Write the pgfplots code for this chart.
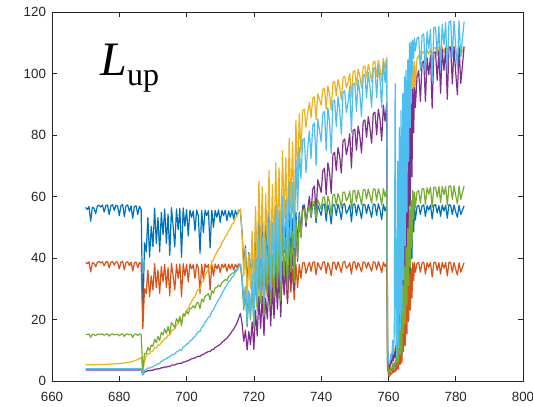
\documentclass[border=0pt]{standalone}
\usepackage{pgfplots}
\usepackage{pgfplotstable}
\pgfplotsset{compat=1.18}
\usepackage{fontspec}
\setmainfont{Liberation Sans}
\newfontfamily\timesfont{Liberation Serif}
\definecolor{mblue}{rgb}{0,0.447,0.741}
\definecolor{morange}{rgb}{0.85,0.325,0.098}
\definecolor{myellow}{rgb}{0.929,0.694,0.125}
\definecolor{mpurple}{rgb}{0.494,0.184,0.556}
\definecolor{mgreen}{rgb}{0.466,0.674,0.188}
\definecolor{mcyan}{rgb}{0.301,0.745,0.933}
\definecolor{maxis}{rgb}{0.15,0.15,0.15}
\pgfplotstableread{
x b o y p g c
670.0 56.5 38.6 5.3 3.6 15.2 4.0
670.5 55.8 38.2 5.3 3.6 15.1 4.0
671.0 56.8 38.8 5.3 3.6 15.3 4.0
671.5 52.0 35.5 5.3 3.6 14.2 4.0
672.0 56.6 38.5 5.3 3.6 15.2 4.0
672.5 56.2 38.3 5.3 3.6 15.1 4.0
673.0 54.5 37.2 5.35 3.6 14.8 4.0
673.5 57.0 38.7 5.35 3.6 15.2 4.0
674.0 57.2 38.9 5.4 3.6 15.3 4.0
674.5 56.6 38.4 5.4 3.6 15.2 4.0
675.0 57.3 38.8 5.4 3.6 15.3 4.0
675.5 55.0 37.5 5.4 3.6 14.9 4.0
676.0 57.1 38.7 5.45 3.6 15.2 4.0
676.5 57.3 38.9 5.45 3.6 15.3 4.0
677.0 54.2 36.8 5.5 3.6 14.6 4.0
677.5 57.0 38.6 5.5 3.6 15.2 4.0
678.0 57.4 38.9 5.55 3.6 15.3 4.0
678.5 55.5 37.7 5.55 3.6 15.0 4.0
679.0 57.2 38.8 5.6 3.6 15.2 4.0
679.5 57.0 38.6 5.65 3.6 15.2 4.0
680.0 53.8 36.5 5.7 3.6 14.7 4.0
680.5 57.1 38.7 5.75 3.6 15.2 4.0
681.0 57.4 38.9 5.8 3.6 15.3 4.0
681.5 53.5 36.2 5.85 3.6 14.5 4.0
682.0 57.0 38.6 5.95 3.6 15.2 4.0
682.5 57.3 38.8 6.0 3.6 15.3 4.0
683.0 55.2 37.6 6.1 3.6 15.0 4.0
683.5 57.0 38.7 6.2 3.6 15.2 4.0
684.0 53.0 35.8 6.4 3.6 14.2 4.0
684.5 56.8 38.5 6.6 3.6 15.2 4.0
685.0 57.0 38.7 6.8 3.6 15.3 4.0
685.5 54.2 36.9 7.0 3.6 14.8 4.0
686.0 56.9 38.6 7.3 3.6 15.3 4.05
686.5 55.8 38.0 7.6 3.65 15.2 4.1
687.0 20.0 17.0 3.0 2.0 3.5 2.0
687.5 45.0 30.0 6.5 3.0 9.0 3.5
688.0 42.0 28.5 8.1 3.1 8.9 3.8
688.5 53.2 36.1 8.9 3.4 10.9 4.2
689.0 40.3 27.4 8.9 3.3 9.8 4.2
689.5 50.4 34.2 9.6 3.5 11.7 4.5
690.0 43.7 29.6 9.8 3.5 11.3 4.6
690.5 56.3 38.2 10.8 3.8 13.6 5.1
691.0 44.8 30.4 10.8 3.8 12.5 5.2
691.5 53.2 36.1 11.7 4.0 14.5 5.6
692.0 42.0 28.5 11.7 4.0 13.2 5.7
692.5 54.9 37.2 12.7 4.3 15.8 6.4
693.0 47.6 32.3 13.0 4.3 15.0 6.6
693.5 56.0 38.0 13.9 4.6 17.0 7.1
694.0 44.8 30.4 13.9 4.5 15.4 7.2
694.5 54.3 36.9 15.0 4.8 17.7 7.8
695.0 40.9 27.7 14.9 4.7 15.5 7.8
695.5 56.4 38.3 16.3 5.15 19.0 8.5
696.0 50.4 34.2 16.7 5.2 18.3 8.6
696.5 43.7 29.6 16.9 5.2 17.3 8.8
697.0 56.0 38.0 18.4 5.55 20.3 9.5
697.5 49.3 33.4 18.7 5.6 19.1 9.7
698.0 56.2 38.1 20.0 5.8 21.0 10.2
698.5 40.3 27.4 19.5 5.7 17.9 10.0
699.0 56.3 38.2 21.5 6.2 21.9 11.1
699.5 50.4 34.2 21.8 6.2 21.1 11.3
700.0 55.8 38.0 23.0 6.5 22.8 12.0
700.5 47.2 32.3 23.5 6.6 21.8 12.2
701.0 55.6 38.1 25.0 6.95 23.6 13.0
701.5 53.3 36.5 25.8 7.2 23.7 13.4
702.0 55.4 37.9 27.0 7.4 24.5 14.0
702.5 48.8 33.4 27.5 7.5 23.7 14.4
703.0 55.7 38.1 29.0 7.85 25.4 15.4
703.5 53.8 36.9 29.9 8.1 25.5 16.0
704.0 41.6 28.5 29.8 8.0 23.6 16.2
704.5 55.5 38.0 32.1 8.55 26.7 17.5
705.0 48.3 33.1 32.5 8.6 25.7 17.9
705.5 55.6 38.1 34.3 9.05 27.6 19.1
706.0 53.8 36.9 35.3 9.3 27.9 19.8
706.5 55.4 37.9 36.6 9.6 28.5 20.8
707.0 43.3 29.6 36.5 9.6 26.4 21.0
707.5 55.6 38.0 38.8 10.2 29.4 22.6
708.0 50.0 34.2 39.4 10.3 28.6 23.1
708.5 55.5 38.1 41.0 10.9 30.3 24.5
709.0 53.3 36.5 41.9 11.2 30.5 25.4
709.5 55.7 38.0 43.0 11.6 31.2 26.5
710.0 51.6 35.3 43.5 11.9 30.7 27.2
710.5 55.5 38.0 45.0 12.5 32.1 28.5
711.0 53.8 36.9 45.8 13.0 32.5 29.4
711.5 55.6 38.1 47.0 13.5 33.0 30.5
712.0 52.2 35.7 47.6 13.9 32.7 31.2
712.5 55.4 38.0 49.0 14.7 34.0 32.3
713.0 53.3 36.5 49.7 15.3 34.4 32.8
713.5 55.6 38.1 51.0 16.2 35.0 33.8
714.0 52.7 36.1 51.6 16.9 35.2 34.3
714.5 55.5 38.0 53.0 17.9 36.1 35.4
715.0 53.8 36.9 53.8 18.9 36.3 36.0
715.5 55.6 38.1 55.0 20.5 37.3 37.0
716.0 55.2 37.9 56.0 22.0 38.0 38.0
716.5 48.4 33.4 48.0 18.7 32.6 34.0
717.0 37.4 25.8 34.2 12.9 23.1 24.3
717.5 44.0 30.4 43.1 16.5 29.1 30.8
718.0 30.8 21.3 26.1 10.1 17.6 18.7
718.5 41.8 28.9 41.3 16.1 27.6 29.4
719.0 33.0 22.8 30.0 11.8 19.9 21.5
719.5 46.2 31.9 48.8 19.2 32.2 34.8
720.0 29.5 20.4 26.0 10.3 17.1 18.7
720.5 50.6 35.0 56.7 23.0 36.9 41.0
721.0 35.2 24.3 35.2 14.6 22.8 25.6
721.5 55.0 38.0 65.0 27.5 41.8 47.5
722.0 37.4 25.8 39.6 17.1 25.3 29.1
722.5 52.8 36.5 63.2 27.6 40.5 47.0
723.0 33.0 22.8 33.5 14.8 21.5 25.3
723.5 50.6 35.0 60.8 27.0 39.1 46.4
724.0 39.6 27.4 44.2 20.2 28.5 34.1
724.5 55.0 38.0 68.5 32.0 44.2 53.5
725.0 35.2 24.3 38.0 17.9 24.5 30.0
725.5 51.5 35.6 63.9 30.4 41.4 51.1
726.0 37.4 25.8 42.0 20.4 27.3 33.6
726.5 55.0 38.0 71.0 35.0 46.0 57.0
727.0 39.6 27.4 46.8 23.4 30.2 37.4
727.5 52.8 36.5 69.4 35.2 44.7 55.6
728.0 35.2 24.3 40.7 20.9 26.1 32.5
728.5 55.0 38.0 75.0 39.0 48.0 60.0
729.0 41.8 28.9 52.9 28.0 34.0 42.7
729.5 52.8 36.5 72.7 39.0 46.6 58.9
730.0 37.4 25.8 46.5 25.2 29.7 37.8
730.5 55.0 38.0 79.0 43.5 50.0 65.0
731.0 41.8 28.9 56.4 31.5 35.4 46.6
731.5 52.8 36.5 77.9 44.2 48.6 64.6
732.0 38.3 26.4 51.8 29.8 32.1 43.4
732.5 55.0 38.0 85.0 50.0 52.4 72.0
733.0 44.0 30.4 64.5 39.0 39.8 55.5
733.5 55.0 38.0 87.0 54.0 54.0 76.0
734.0 48.4 33.4 74.4 46.8 46.8 65.9
734.5 57.0 38.4 88.0 56.0 55.5 78.3
735.0 57.3 38.6 88.5 57.0 56.0 79.0
735.5 52.1 35.0 82.6 50.2 51.4 67.8
736.0 55.2 37.1 87.3 55.8 54.9 75.7
736.5 57.5 38.7 90.6 60.1 57.4 81.4
737.0 53.2 35.7 85.8 54.7 53.6 72.4
737.5 57.2 38.5 91.9 62.4 58.1 83.2
738.0 57.6 38.8 92.5 63.5 58.5 84.0
738.5 51.5 34.6 85.1 54.6 52.8 70.2
739.0 57.3 38.5 93.5 65.5 59.0 85.3
739.5 55.6 37.3 91.7 63.5 57.5 81.6
740.0 53.9 36.2 89.8 61.4 55.9 77.9
740.5 57.4 38.6 94.9 68.4 59.7 87.1
741.0 57.6 38.8 95.3 69.3 59.9 87.8
741.5 52.1 35.0 88.5 60.6 54.6 75.1
742.0 57.3 38.5 96.0 71.0 60.2 89.0
742.5 55.2 37.1 93.5 68.0 58.2 84.2
743.0 51.1 34.3 88.1 61.0 54.0 74.0
743.5 57.5 38.7 97.2 73.6 60.6 90.9
744.0 57.2 38.5 97.5 74.5 60.8 91.5
744.5 53.9 36.2 92.9 68.5 57.2 82.8
745.0 57.6 38.8 98.1 76.0 61.0 92.5
745.5 55.6 37.3 95.8 73.3 59.4 88.4
746.0 52.5 35.3 91.6 67.7 56.2 80.4
746.5 57.4 38.6 98.8 78.1 61.4 94.0
747.0 57.7 38.9 99.2 78.8 61.5 94.5
747.5 54.5 36.7 95.5 73.7 58.6 87.4
748.0 55.6 37.3 97.3 76.4 59.8 90.7
748.5 57.3 38.5 100.1 80.5 61.8 95.9
749.0 51.8 34.8 92.4 69.3 56.0 80.9
749.5 57.5 38.7 100.7 81.5 61.9 96.6
750.0 57.6 38.8 101.0 82.0 62.0 97.0
750.5 53.9 36.2 96.2 75.1 58.3 87.8
751.0 57.4 38.6 101.5 83.0 62.1 98.0
751.5 55.6 37.3 99.3 79.7 60.2 93.6
752.0 52.8 35.5 95.4 74.2 57.3 86.1
752.5 57.6 38.8 102.3 84.5 62.2 99.4
753.0 57.3 38.5 102.5 85.0 62.3 99.8
753.5 54.5 36.7 98.7 79.3 59.3 92.1
754.0 57.5 38.7 103.0 86.0 62.4 100.5
754.5 55.6 37.3 100.7 82.5 60.5 95.9
755.0 53.2 35.7 97.3 77.4 57.9 89.1
755.5 57.6 38.8 103.8 87.1 62.5 101.6
756.0 57.4 38.6 104.0 87.5 62.5 102.0
756.5 53.9 36.2 99.0 80.1 58.8 92.2
757.0 57.7 38.9 104.4 88.5 62.5 102.8
757.5 55.6 37.3 102.0 85.0 60.6 97.9
758.0 52.5 35.3 97.5 78.2 57.3 89.0
758.5 57.5 38.7 105.0 89.8 62.6 104.0
759.0 55.3 37.2 101.5 84.5 59.9 97.2
759.5 57.3 38.5 105.3 90.5 62.5 104.5
759.75 5.7 3.9 10.4 9.5 6.2 11.0
760.0 3.4 2.3 6.2 5.7 3.7 6.6
760.25 2.3 1.5 4.2 3.8 2.5 5.5
760.5 2.9 1.9 5.2 4.8 3.1 6.6
760.75 4.0 2.7 7.3 6.7 4.3 8.8
761.0 3.4 2.3 6.2 5.7 3.7 7.7
761.25 5.1 3.5 9.4 8.6 5.6 13.2
761.5 4.0 2.7 7.3 6.7 4.3 8.8
761.75 5.7 3.9 10.4 9.5 6.2 15.4
762.0 4.6 3.1 8.3 7.6 5.0 96.8
762.25 6.8 4.6 12.5 11.4 7.4 16.5
762.5 5.1 3.5 9.4 8.6 5.6 7.7
762.75 11.4 7.7 20.8 19.0 12.4 71.5
763.0 5.7 3.9 10.4 9.5 6.2 11.0
763.25 17.1 11.6 31.2 28.5 18.6 82.5
763.5 8.0 5.4 14.6 13.3 8.7 16.5
763.75 22.8 15.4 41.6 38.0 24.8 88.0
764.0 8.6 5.8 15.6 14.3 9.3 22.0
764.25 28.5 19.3 52.0 47.5 31.0 93.5
764.5 14.3 9.6 26.0 23.8 15.5 33.0
764.75 34.2 23.1 62.4 57.0 37.2 99.0
765.0 17.1 11.6 31.2 28.5 18.6 44.0
765.25 39.9 27.0 72.8 66.5 43.4 101.2
765.5 22.8 15.4 41.6 38.0 24.8 55.0
765.75 45.6 30.8 83.2 76.0 49.6 104.5
766.0 28.5 19.3 52.0 47.5 31.0 71.5
766.25 51.3 34.7 93.6 85.5 55.8 110.0
766.5 34.2 23.1 62.4 57.0 37.2 82.5
766.75 54.2 36.6 98.8 90.3 58.9 110.5
767.0 39.9 27.0 72.8 66.5 43.4 99.0
767.25 57.0 38.5 104.0 95.0 62.0 111.0
767.5 48.5 32.7 88.4 80.8 52.7 105.0
767.75 57.0 38.5 104.0 95.5 61.5 111.5
768.0 52.4 35.4 96.0 89.0 56.5 107.5
768.5 56.8 38.3 105.0 99.0 61.5 111.5
769.0 57.2 38.6 106.0 101.0 62.0 112.0
769.5 54.2 35.4 103.3 91.0 57.9 101.0
770.0 57.0 38.5 107.0 103.5 62.5 112.5
770.5 57.3 38.7 107.3 104.2 62.7 113.0
771.0 53.6 34.8 103.7 91.0 57.5 99.7
771.5 57.1 38.5 107.8 105.2 62.9 113.7
772.0 55.6 37.0 106.4 99.7 60.8 108.3
772.5 57.3 38.6 108.2 106.0 63.1 114.4
773.0 52.7 33.9 103.4 88.8 56.5 97.5
773.5 57.2 38.5 108.4 106.8 63.1 115.0
774.0 57.4 38.7 108.5 107.1 63.1 115.2
774.5 54.7 36.0 106.0 97.9 59.8 106.2
775.0 57.1 38.5 108.7 107.5 63.3 115.5
775.5 53.6 34.8 104.9 93.6 58.0 101.9
776.0 57.3 38.6 108.8 108.0 63.3 116.1
776.5 55.3 36.7 106.9 101.1 60.6 109.4
777.0 57.2 38.5 109.0 108.3 63.3 116.7
777.5 53.0 34.2 104.4 91.7 57.3 100.5
778.0 57.4 38.7 109.0 108.5 63.5 117.0
778.5 57.1 38.5 109.0 108.6 63.5 117.2
779.0 54.2 35.4 105.7 96.7 59.1 105.5
779.5 57.3 38.6 109.0 108.7 63.5 117.2
780.0 55.0 36.3 106.7 100.3 60.4 109.0
780.5 53.3 34.5 104.7 93.2 57.7 102.0
781.0 57.2 38.5 109.0 108.7 63.5 117.2
781.5 54.2 35.4 105.7 96.8 59.1 105.5
782.0 55.6 37.0 107.4 102.8 61.3 111.3
782.5 57.0 38.5 109.0 108.8 63.5 117.0
}\datatable
\begin{document}
\begin{tikzpicture}
\begin{axis}[
  scale only axis,
  width=353.25pt, height=276.5pt,
  xmin=660, xmax=800, ymin=0, ymax=120,
  xtick={660,680,...,800}, ytick={0,20,...,120},
  tick align=inside,
  xtick pos=both, ytick pos=both,
  major tick length=3.5pt,
  axis line style={maxis, line width=0.5pt},
  tick style={maxis, line width=0.5pt},
  tick label style={font=\fontsize{10}{10}\selectfont, text=maxis},
  xticklabel style={yshift=-5pt},
  yticklabel style={xshift=-1pt},
  /pgf/number format/assume math mode=true,
  clip mode=individual,
  every axis plot/.append style={line width=0.9pt, line join=round},
]
\addplot[mblue, no markers] table[x=x,y=b]{\datatable};
\addplot[morange, no markers] table[x=x,y=o]{\datatable};
\addplot[myellow, no markers] table[x=x,y=y]{\datatable};
\addplot[mpurple, no markers] table[x=x,y=p]{\datatable};
\addplot[mgreen, no markers] table[x=x,y=g]{\datatable};
\addplot[mcyan, no markers] table[x=x,y=c]{\datatable};
\node[anchor=base west, inner sep=0pt] at (axis cs:674.3,99.6)
  {\timesfont\fontsize{36}{36}\selectfont\textit{L}\raisebox{-7.5pt}{\fontsize{24}{24}\selectfont up}};
\end{axis}
\pgfresetboundingbox
\path[use as bounding box] (-39pt,-19.5pt) rectangle (360.75pt,285.75pt);
\end{tikzpicture}
\end{document}
